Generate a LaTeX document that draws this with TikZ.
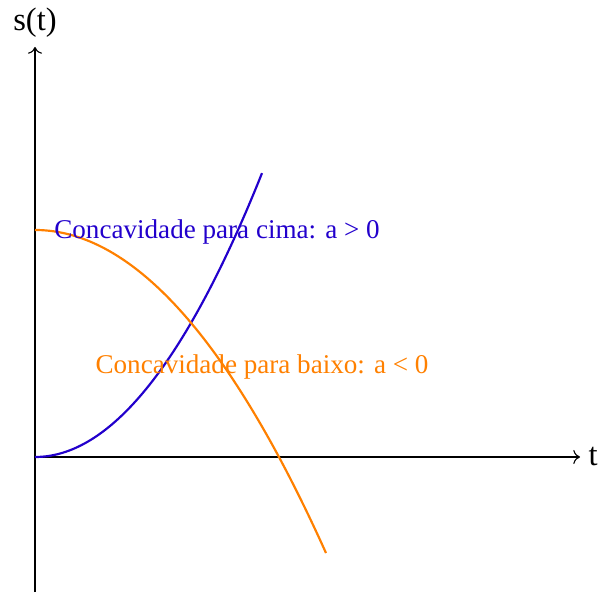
\documentclass[tikz,border=0pt]{standalone}
\usepackage{fontspec}
\setmainfont{Liberation Serif}
\definecolor{upBlue}{HTML}{2200CC}
\definecolor{downOrange}{HTML}{FF8000}
\usepackage{tikz}
\usetikzlibrary{arrows.meta,positioning}

\begin{document}
\begin{tikzpicture}[
  x=0.369pt,y=0.369pt,
  axis/.style={->,black,thin},
  curve/.style={thick,smooth,samples=60},
  lbl/.style={font=\normalsize,inner sep=0pt},
  axlbl/.style={font=\large,inner sep=0pt}
]
  \useasboundingbox (-35,-135) rectangle (565,457);

  % ── Axes ──────────────────────────────────────────────────────────────────
  \coordinate (orig) at (0,0);
  \coordinate (xend) at (545,0);
  \coordinate (ybot) at (0,-135);
  \coordinate (yend) at (0,410);
  \draw[axis] (orig) -- (xend);
  \draw[axis] (ybot) -- (yend);
  \node[axlbl,right=3pt of xend] (tlbl) {t};
  \node[axlbl,above=3.5pt of yend] (slbl) {s(t)};

  % ── Parabolas ─────────────────────────────────────────────────────────────
  \draw[curve,upBlue,domain=0:227] plot (\x,{0.00551*\x*\x});
  \draw[curve,downOrange,domain=0:291] plot (\x,{227-0.003814*\x*\x});

  \node[lbl,upBlue] (cima) at (182,225) {Concavidade para cima: a > 0};
  \node[lbl,downOrange] (baixo) at (227,90) {Concavidade para baixo: a < 0};
\end{tikzpicture}
\end{document}
